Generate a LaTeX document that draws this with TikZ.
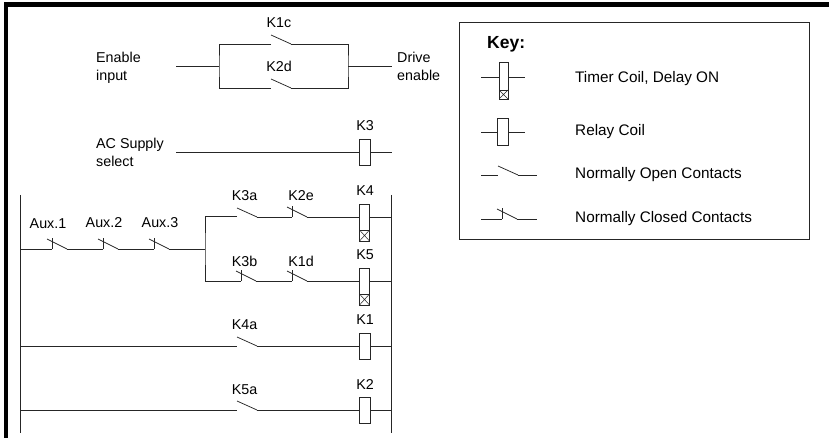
\documentclass[tikz,border=0pt]{standalone}
\usepackage{fontspec}
\setmainfont{Liberation Sans}
\usepackage{xcolor}
\usetikzlibrary{positioning}
\tikzset{
  wire/.style={line width=0.75pt,black!85},
  heavy/.style={line width=1pt,black!85},
  tag/.style={inner sep=0pt,font=\fontsize{14.3}{18}\selectfont},
  note/.style={tag,anchor=west,align=left},
  keytext/.style={note,font=\fontsize{15.3}{18}\selectfont},
  coil/.style={draw=black!85,line width=0.75pt,fill=white,rectangle,inner sep=0pt,outer sep=0pt,minimum width=11pt,minimum height=26pt},
  timer/.style={coil,minimum width=10pt,minimum height=37pt},
  xbox/.style={draw=black!85,line width=0.75pt,fill=white,rectangle,inner sep=0pt,outer sep=0pt,minimum width=10pt,minimum height=11pt,
    path picture={\draw[line width=0.5pt] (path picture bounding box.south west)--(path picture bounding box.north east)
      (path picture bounding box.north west)--(path picture bounding box.south east);}},
}
\newcommand{\nocontact}[3]{
  \coordinate (#1-in) at (#2,#3);
  \coordinate (#1-out) at (#2+20,#3);
  \draw[wire] (#2,#3-9)--(#1-out);
}
\newcommand{\nccontact}[3]{
  \coordinate (#1-in) at (#2+5,#3);
  \coordinate (#1-out) at (#2+20,#3);
  \draw[wire] (#2,#3-10)--(#1-out);
  \draw[wire] (#1-in)--++(0,-11);
}
\begin{document}
\begin{tikzpicture}[x=1pt,y=-1pt]
\useasboundingbox (0,0) rectangle (829,438);
\fill[black] (4,2) rectangle (829,7);
\fill[black] (4,2) rectangle (8,438);

% enable
\node[note] (enable) at (96,67.5) {Enable\\input};
\node[note] (drive) at (397,66) {Drive\\enable};
\node[tag] (k1c) at (279,23) {K1c};
\node[tag] (k2d) at (279,66) {K2d};
\coordinate (en-a) at (176,66);
\coordinate (en-b) at (219,66);
\coordinate (en-c) at (348,66);
\coordinate (en-d) at (392,66);
\nocontact{c1}{271}{44}
\nocontact{c2}{271}{88}
\draw[wire] (en-a)--(en-b);
\draw[wire] (c1-in)-|(en-b)|-(c2-in);
\draw[wire] (c1-out)-|(en-c)|-(c2-out);
\draw[wire] (en-c)--(en-d);

% ac supply
\node[note] (acsel) at (96,152) {AC Supply\\select};
\node[coil] (k3) at (364.5,152) {};
\node[tag] (k3t) at (365,126) {K3};
\coordinate (ac-a) at (176,152);
\coordinate (ac-b) at (392,152);
\draw[wire] (ac-a)--(k3);
\draw[wire] (k3)--(ac-b);

% rails
\coordinate (rl-t) at (20,195);
\coordinate (rl-b) at (20,433);
\coordinate (rr-t) at (391,195);
\coordinate (rr-b) at (391,433);
\draw[wire] (rl-t)--(rl-b);
\draw[wire] (rr-t)--(rr-b);

% aux chain
\node[tag] (aux1) at (48,224) {Aux.1};
\node[tag] (aux2) at (104,223) {Aux.2};
\node[tag] (aux3) at (160,223) {Aux.3};
\nccontact{a1}{47}{249}
\nccontact{a2}{98}{249}
\nccontact{a3}{149}{249}
\coordinate (join) at (205,249);
\draw[wire] (a1-in-|rl-t)--(a1-in);
\draw[wire] (a1-out)--(a2-in);
\draw[wire] (a2-out)--(a3-in);
\draw[heavy] (a3-out)--(join);

% k4 and k5 branches
\node[tag] (k3at) at (244.5,196) {K3a};
\node[tag] (k2et) at (301,196) {K2e};
\node[tag] (k4t) at (365,191) {K4};
\node[tag] (k3bt) at (244.5,261) {K3b};
\node[tag] (k1dt) at (301,261) {K1d};
\node[tag] (k5t) at (365,255) {K5};
\nocontact{k3a}{237}{217}
\nccontact{k2e}{287}{217}
\nccontact{k3b}{236}{281}
\nccontact{k1d}{287}{281}
\node[timer] (k4) at (364.5,222.5) {};
\node[xbox] (k4x) at (364.5,235.5) {};
\node[timer] (k5) at (364.5,287) {};
\node[xbox] (k5x) at (364.5,299.5) {};
\draw[heavy] (k3a-in)-|(join)|-(k3b-in);
\draw[wire] (k3a-out)--(k2e-in);
\draw[wire] (k2e-out)--(k2e-out-|k4.west);
\draw[wire] (k2e-out-|k4.east)--(k2e-out-|rr-t);
\draw[wire] (k3b-out)--(k1d-in);
\draw[wire] (k1d-out)--(k1d-out-|k5.west);
\draw[wire] (k1d-out-|k5.east)--(k1d-out-|rr-t);

% k1 and k2 rungs
\node[tag] (k4at) at (244.5,325) {K4a};
\node[tag] (k1t) at (365,320) {K1};
\node[tag] (k5at) at (244.5,390) {K5a};
\node[tag] (k2t) at (365,385) {K2};
\nocontact{k4a}{237}{346}
\nocontact{k5a}{237}{410}
\node[coil] (k1) at (364.5,346) {};
\node[coil] (k2) at (364.5,410) {};
\draw[wire] (k4a-in-|rl-t)--(k4a-in);
\draw[wire] (k4a-out)--(k1);
\draw[wire] (k1)--(k4a-out-|rr-t);
\draw[wire] (k5a-in-|rl-t)--(k5a-in);
\draw[wire] (k5a-out)--(k2);
\draw[wire] (k2)--(k5a-out-|rr-t);

% key
\node[draw=black!85,line width=0.75pt,minimum width=350pt,minimum height=217pt,inner sep=0pt] (keybox) at (634,130.5) {};
\node[note,font=\fontsize{17.5}{20}\selectfont\bfseries] (keyt) at (487,44) {Key:};
\node[keytext] (ktimer) at (575,79) {Timer Coil, Delay ON};
\node[keytext] (krelay) at (575,132) {Relay Coil};
\node[keytext] (kopen) at (575,175) {Normally Open Contacts};
\node[keytext] (kclosed) at (575,219) {Normally Closed Contacts};
\node[timer,minimum width=9pt] (kt) at (503.5,81) {};
\node[xbox,minimum width=9pt,minimum height=9pt] (ktx) at (503.5,94.5) {};
\coordinate (kt-a) at (481,77);
\coordinate (kt-b) at (525,77);
\draw[wire] (kt-a)--(kt-a-|kt.west);
\draw[wire] (kt-b-|kt.east)--(kt-b);
\node[coil,minimum height=27pt] (kr) at (503,132) {};
\coordinate (kr-a) at (481,132);
\coordinate (kr-b) at (525,132);
\draw[wire] (kr-a)--(kr);
\draw[wire] (kr)--(kr-b);
\nocontact{kno}{498}{175}
\coordinate (kno-a) at (481,175);
\coordinate (kno-b) at (537,175);
\draw[wire] (kno-a)--(kno-in);
\draw[wire] (kno-out)--(kno-b);
\nccontact{knc}{497}{219}
\coordinate (knc-a) at (481,219);
\coordinate (knc-b) at (537,219);
\draw[wire] (knc-a)--(knc-in);
\draw[wire] (knc-out)--(knc-b);
\end{tikzpicture}
\end{document}
